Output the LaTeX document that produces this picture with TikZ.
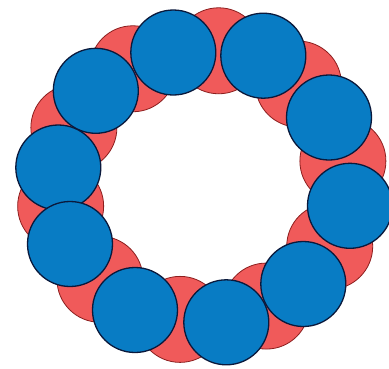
\documentclass[tikz,border=0pt]{standalone}
\usetikzlibrary{calc}
\definecolor{ballblue}{RGB}{8,124,196}
\definecolor{ballblueline}{RGB}{10,25,60}
\definecolor{ballred}{RGB}{240,90,90}
\definecolor{ballredline}{RGB}{140,30,30}
\tikzset{
  blueball/.style={circle,fill=ballblue,draw=ballblueline,line width=1.3pt,minimum size=85pt,inner sep=0pt},
  redball/.style={circle,fill=ballred,draw=ballredline,line width=0.8pt,minimum size=86pt,inner sep=0pt}
}
\begin{document}
\begin{tikzpicture}[x=1pt,y=-1pt]
\useasboundingbox (0,0) rectangle (389,368);
\fill[white] (0,0) rectangle (389,368);
\coordinate (ctr) at (204,187);
% blue centres, clockwise from top
\coordinate (p1) at (173.3,52.5);
\coordinate (p2) at (263.3,55.7);
\coordinate (p3) at (329,117.5);
\coordinate (p4) at (350,205.8);
\coordinate (p5) at (303.3,284);
\coordinate (p6) at (226.3,322.3);
\coordinate (p7) at (135,310);
\coordinate (p8) at (70,244);
\coordinate (p9) at (58.3,167.5);
\coordinate (p10) at (95.8,90.8);
% red balls between neighbours, slightly outward
\foreach \a/\b [count=\i] in {p1/p2,p2/p3,p3/p4,p4/p5,p5/p6,p6/p7,p7/p8,p8/p9,p9/p10,p10/p1}{
  \node[redball] (r\i) at ($(ctr)!1.025!($(\a)!0.5!(\b)$)$) {};
}
\foreach \i in {1,...,6,10,9}{
  \node[blueball] (b\i) at (p\i) {};
}
\node[blueball] (b7) at (p7) {};
\node[blueball] (b8) at (p8) {};
\end{tikzpicture}
\end{document}
